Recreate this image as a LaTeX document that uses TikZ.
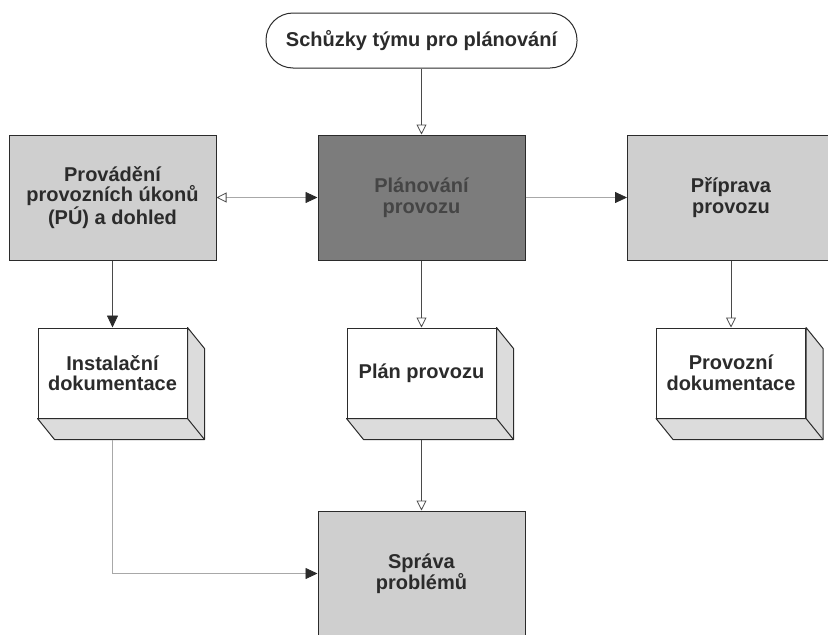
\documentclass[tikz,border=0pt]{standalone}
\usepackage{fontspec}
\setmainfont{Liberation Sans}
\usetikzlibrary{arrows.meta,calc}

\definecolor{boxgray}{HTML}{CFCFCF}
\definecolor{darkbox}{HTML}{7C7C7C}
\definecolor{darktext}{HTML}{454545}
\definecolor{sidegray}{HTML}{DCDCDC}
\definecolor{ink}{HTML}{2B2B2B}
\definecolor{wire}{HTML}{4A4A4A}
\definecolor{faint}{HTML}{A8A8A8}

% side and bottom faces of a box drawn as a block, plus a coordinate under it
\newcommand\blockdepth[1]{%
  \path[side] (#1.north east) -- ++(17,21) -- ($(#1.south east)+(17,21)$)
    -- ($(#1.south west)+(17,21)$) -- (#1.south west) -- (#1.south east) -- cycle;
  \draw[draw=ink, line width=1pt] (#1.south east) -- ++(17,21);
  \coordinate (#1-base) at ($(#1.south)+(0,21)$);
}

\begin{document}
\begin{tikzpicture}[x=1pt,y=-1pt,
  base/.style={draw=ink, line width=1pt, inner sep=0pt, align=center, text=ink,
    font=\fontsize{20}{20.5}\selectfont\bfseries},
  process/.style={base, fill=boxgray, minimum width=207pt, minimum height=125pt},
  planbox/.style={process, fill=darkbox, text=darktext},
  docface/.style={base, fill=white, minimum width=149pt, minimum height=90pt},
  terminal/.style={base, fill=white, rounded corners=27pt, minimum width=311pt, minimum height=55pt},
  side/.style={draw=ink, line width=1pt, fill=sidegray, line join=round},
  flow/.style={draw=wire, line width=0.8pt},
  weak/.style={draw=faint, line width=0.8pt},
  solidtip/.style={-{Triangle[length=12pt,width=11pt,color=ink]}},
  opentip/.style={-{Triangle[open,length=10pt,width=10pt,color=wire]}},
]
\clip (0,0) rectangle (828,635);
\fill[white] (0,0) rectangle (828,635);

% nodes
\node[terminal] (meet) at (421.5,40.5) {Schůzky týmu pro plánování};

\node[process, font=\fontsize{20}{20.5}\selectfont\bfseries] (exec) at (112.5,197.5)
  {Provádění\\provozních úkonů\\(PÚ) a dohled};
\node[planbox] (plan) at (421.5,197.5) {Plánování\\provozu};
\node[process] (prep) at (731,197.5) {Příprava\\provozu};

\node[docface] (inst) at (112.5,373) {Instalační\\dokumentace};
\node[docface] (plandoc) at (421.5,373) {Plán provozu};
\node[docface] (opsdoc) at (731,373) {Provozní\\dokumentace};
\blockdepth{inst}
\blockdepth{plandoc}
\blockdepth{opsdoc}

\node[process] (issues) at (421.5,573.5) {Správa\\problémů};

% connectors
\draw[flow, opentip] (meet.south) -- (plan.north);
\draw[weak, {Triangle[open,length=10pt,width=10pt,color=wire]}-{Triangle[length=12pt,width=11pt,color=ink]}]
  (exec.east) -- (plan.west);
\draw[weak, solidtip] (plan.east) -- (prep.west);
\draw[flow, solidtip] (exec.south) -- (inst.north);
\draw[flow, opentip] (plan.south) -- (plandoc.north);
\draw[flow, opentip] (prep.south) -- (opsdoc.north);
\draw[flow, opentip] (plandoc-base) -- (issues.north);
\draw[weak, solidtip] (inst-base) |- (issues.west);
\end{tikzpicture}
\end{document}
